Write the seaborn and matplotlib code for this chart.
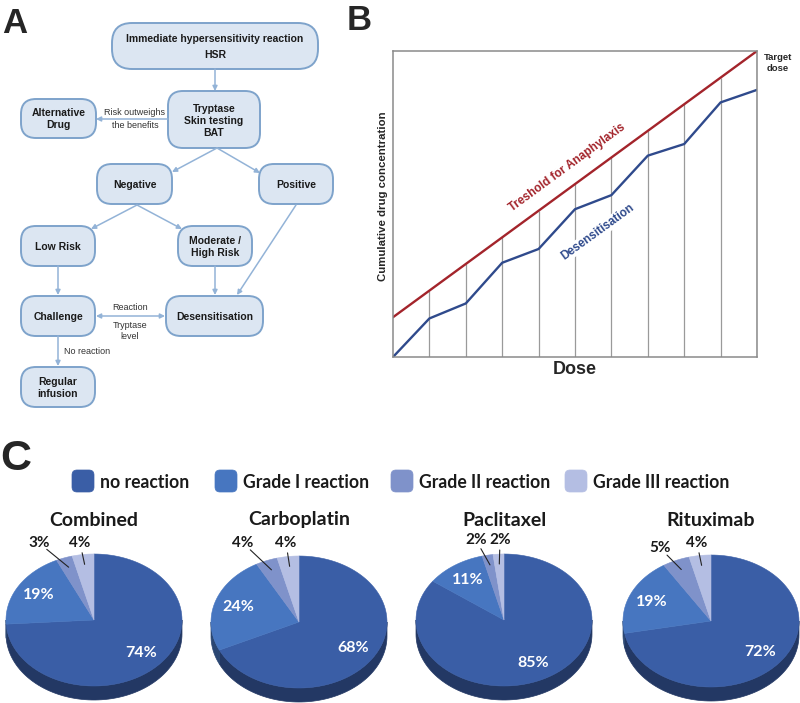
import numpy as np
import matplotlib
matplotlib.use("Agg")
import matplotlib.pyplot as plt
import seaborn as sns
from matplotlib.patches import FancyBboxPatch, Polygon
from matplotlib.colors import to_rgb

### data ###
## panel A: flowchart
node_names = ["hsr", "tryptase", "alt", "neg", "pos", "low", "mod", "chal", "desens", "regular"]
node_labels = [
    "Immediate hypersensitivity reaction\nHSR",
    "Tryptase\nSkin testing\nBAT",
    "Alternative\nDrug",
    "Negative",
    "Positive",
    "Low Risk",
    "Moderate /\nHigh Risk",
    "Challenge",
    "Desensitisation",
    "Regular\ninfusion",
]
edge_list = [
    ("hsr", "tryptase"), ("tryptase", "alt"), ("tryptase", "neg"), ("tryptase", "pos"),
    ("neg", "low"), ("neg", "mod"), ("pos", "desens"), ("low", "chal"),
    ("mod", "desens"), ("chal", "desens"), ("chal", "regular"),
]
note_risk = "Risk outweighs\nthe benefits"
note_reaction = "Reaction"
note_tryptase = "Tryptase\nlevel"
note_noreaction = "No reaction"

## panel B: desensitisation protocol
dose_steps = [0, 1, 2, 3, 4, 5, 6, 7, 8, 9, 10]
threshold = [13, 21.7, 30.4, 39.1, 47.8, 56.5, 65.2, 73.9, 82.6, 91.3, 100]
desensitisation = [0, 12.6, 17.5, 30.8, 35.3, 48.3, 52.9, 65.8, 69.6, 83.2, 87.3]

## panel C: reaction grades
reaction_types = ["no reaction", "Grade I reaction", "Grade II reaction", "Grade III reaction"]
pie_titles = ["Combined", "Carboplatin", "Paclitaxel", "Rituximab"]
combined = [74, 19, 3, 4]
carboplatin = [68, 24, 4, 4]
paclitaxel = [85, 11, 2, 2]
rituximab = [72, 19, 5, 4]
pie_values = [combined, carboplatin, paclitaxel, rituximab]

### layout / style ###
sns.set_theme(style="white")
plt.rcParams['font.family'] = ['Liberation Sans', 'DejaVu Sans']
calibri = ['Lato', 'DejaVu Sans']

box_fc = "#dce6f2"
box_ec = "#7ea3cb"
arrow_col = "#93b3d7"
red = "#a3242b"
navy = "#2f4a8c"
pie_colors = ["#3a5ea6", "#4776c0", "#7f92ca", "#b4bee3"]

# node geometry in pixels: cx, cy, w, h
node_pos = {
    "hsr": (215, 46, 206, 46),
    "tryptase": (214, 119.5, 92, 57),
    "alt": (58.5, 118.5, 75, 39),
    "neg": (134.5, 184, 75, 40),
    "pos": (296, 184, 74, 40),
    "low": (58, 246, 74, 40),
    "mod": (215, 246, 74, 40),
    "chal": (58, 316, 74, 40),
    "desens": (214.5, 316, 97, 40),
    "regular": (58, 387, 74, 40),
}
edge_pts = {
    ("hsr", "tryptase"): ((215, 69), (215, 91)),
    ("tryptase", "alt"): ((168, 119), (96, 119)),
    ("tryptase", "neg"): ((217, 148), (172, 172)),
    ("tryptase", "pos"): ((217, 148), (260, 173)),
    ("neg", "low"): ((137, 205), (91, 229)),
    ("neg", "mod"): ((137, 205), (182, 229)),
    ("pos", "desens"): ((296, 205), (237, 295)),
    ("low", "chal"): ((58, 266), (58, 295)),
    ("mod", "desens"): ((215, 266), (215, 295)),
    ("chal", "desens"): ((96, 316), (165, 316)),
    ("chal", "regular"): ((58, 336), (58, 366)),
}

fig = plt.figure(figsize=(8, 7.03), dpi=100)

### panel B axes ###
axb = fig.add_axes([393 / 800, 1 - 357 / 703, 364 / 800, 306 / 703])
axb.set_facecolor('none')
axb.vlines(dose_steps[1:], 0, threshold[1:], color="#9a9a9a", lw=0.9)
sns.lineplot(x=dose_steps, y=threshold, color=red, lw=1.7, ax=axb)
sns.lineplot(x=dose_steps, y=desensitisation, color=navy, lw=1.7, ax=axb)
axb.set_xlim(0, 10)
axb.set_ylim(0, 100)
axb.set_xticks([])
axb.set_yticks([])
axb.set_xlabel("")
axb.set_ylabel("")
for side in ['top', 'bottom', 'left', 'right']:
    axb.spines[side].set_color("#8a8a8a")
    axb.spines[side].set_linewidth(1.1)

### overlay in pixel coordinates ###
ov = fig.add_axes([0, 0, 1, 1], zorder=5)
ov.set_xlim(0, 800)
ov.set_ylim(703, 0)
ov.axis('off')
ov.patch.set_alpha(0)

## panel letters
ov.text(2, 33, "A", fontsize=25, fontweight='bold', va='baseline')
ov.text(347, 30, "B", fontsize=25, fontweight='bold', va='baseline')
ov.text(0, 470, "C", fontsize=31, fontweight='bold', va='baseline')

## flowchart
for name, label in zip(node_names, node_labels):
    cx, cy, w, h = node_pos[name]
    rs = 20 if name == "hsr" else 15
    ov.add_patch(FancyBboxPatch(
        (cx - w / 2, cy - h / 2), w, h,
        boxstyle=f"round,pad=0,rounding_size={rs}",
        fc=box_fc, ec=box_ec, lw=1.4
    ))
    ov.text(cx, cy + 1, label, ha='center', va='center', fontsize=7.5,
            fontweight='bold', color="#1a1a1a",
            linespacing=1.7 if name == "hsr" else 1.25)

for edge in edge_list:
    p0, p1 = edge_pts[edge]
    style = '<|-|>' if edge == ("chal", "desens") else '-|>'
    ov.annotate("", xy=p1, xytext=p0,
                arrowprops=dict(arrowstyle=style, color=arrow_col, lw=1.1,
                                mutation_scale=7, shrinkA=0, shrinkB=0))

note_kw = dict(fontsize=6.5, color="#333333", family=['Liberation Sans Narrow', 'Liberation Sans'])
ov.text(135, 119, note_risk, ha='center', va='center', linespacing=1.55, **note_kw)
ov.text(130, 307, note_reaction, ha='center', va='center', **note_kw)
ov.text(130, 331, note_tryptase, ha='center', va='center', linespacing=1.3, **note_kw)
ov.text(64, 351, note_noreaction, ha='left', va='center', **note_kw)

## panel B texts
ov.text(567, 168, "Treshold for Anaphylaxis", rotation=36.2, rotation_mode='anchor',
        ha='center', va='center', fontsize=8.5, fontweight='bold', color=red)
ov.text(598, 232, "Desensitisation", rotation=36, rotation_mode='anchor',
        ha='center', va='center', fontsize=8.5, fontweight='bold', color=navy,
        bbox=dict(fc='white', ec='none', pad=0.6))
ov.text(383, 196, "Cumulative drug concentration", rotation=90,
        ha='center', va='center', fontsize=8.2, fontweight='bold')
ov.text(575, 369, "Dose", ha='center', va='center', fontsize=13, fontweight='bold')
ov.text(778, 63, "Target\ndose", ha='center', va='center', fontsize=6.8,
        fontweight='bold', linespacing=1.3)

## panel C legend
legend_x = [72, 215, 391, 565]
for lx, label, col in zip(legend_x, reaction_types, pie_colors):
    ov.add_patch(FancyBboxPatch((lx, 470), 22, 22,
                                boxstyle="round,pad=0,rounding_size=5",
                                fc=col, ec=col, lw=0.5))
    ov.text(lx + 28, 482, label, ha='left', va='center', fontsize=12.7,
            fontweight='bold', color="#1a1a1a", family=calibri)


## 3D pies
def darker(c, f=0.6):
    return tuple(v * f for v in to_rgb(c))


def pie3d(ax, cx, cy, values, colors, rx=88, ry=66, depth=14):
    total = float(sum(values))
    bounds = 90 - 360 * np.concatenate([[0], np.cumsum(values)]) / total
    # side band of the front half
    for i in range(len(values)):
        hi = min(bounds[i], 0)
        lo = max(bounds[i + 1], -180)
        if hi > lo:
            t = np.radians(np.linspace(hi, lo, 80))
            x = cx + rx * np.cos(t)
            y = cy - ry * np.sin(t)
            pts = np.column_stack([np.r_[x, x[::-1]], np.r_[y, y[::-1] + depth]])
            dc = darker(colors[i])
            ax.add_patch(Polygon(pts, closed=True, fc=dc, ec=dc, lw=0.5))
    # top wedges
    for i in range(len(values)):
        t = np.radians(np.linspace(bounds[i], bounds[i + 1], 120))
        pts = np.vstack([[cx, cy],
                         np.column_stack([cx + rx * np.cos(t), cy - ry * np.sin(t)])])
        ax.add_patch(Polygon(pts, closed=True, fc=colors[i], ec=colors[i], lw=0.4))
    mids = np.radians((bounds[:-1] + bounds[1:]) / 2)
    return mids


pie_centers = [(94, 620), (299, 622), (504, 620), (711, 621)]
small_label_dx = [(-55, -14), (-56, -13), (-28, -4), (-51, -14)]
small_label_dy = [(-77, -77), (-79, -79), (-80, -80), (-73, -78)]

for title, vals, (cx, cy), sdx, sdy in zip(pie_titles, pie_values, pie_centers,
                                           small_label_dx, small_label_dy):
    mids = pie3d(ov, cx, cy, vals, pie_colors)
    ov.text(cx, 520, title, ha='center', va='center', fontsize=14,
            fontweight='bold', color="#1a1a1a", family=calibri)
    # big labels inside
    for i in range(2):
        lx = cx + 0.73 * 88 * np.cos(mids[i])
        ly = cy - 0.73 * 66 * np.sin(mids[i])
        ov.text(lx, ly, f"{vals[i]}%", ha='center', va='center', fontsize=11.5,
                fontweight='bold', color='white', family=calibri)
    # small labels with leader lines
    for k, i in enumerate([2, 3]):
        lx, ly = cx + sdx[k], cy + sdy[k]
        ex = cx + 0.85 * 88 * np.cos(mids[i])
        ey = cy - 0.85 * 66 * np.sin(mids[i])
        v = np.array([ex - lx, ey - ly])
        s = np.array([lx, ly]) + v / np.linalg.norm(v) * 10
        ov.plot([s[0], ex], [s[1], ey], color="#222222", lw=0.8)
        ov.text(lx, ly, f"{vals[i]}%", ha='center', va='center', fontsize=11,
                fontweight='bold', color="#1a1a1a", family=calibri)

plt.savefig("out.png", dpi=100)
